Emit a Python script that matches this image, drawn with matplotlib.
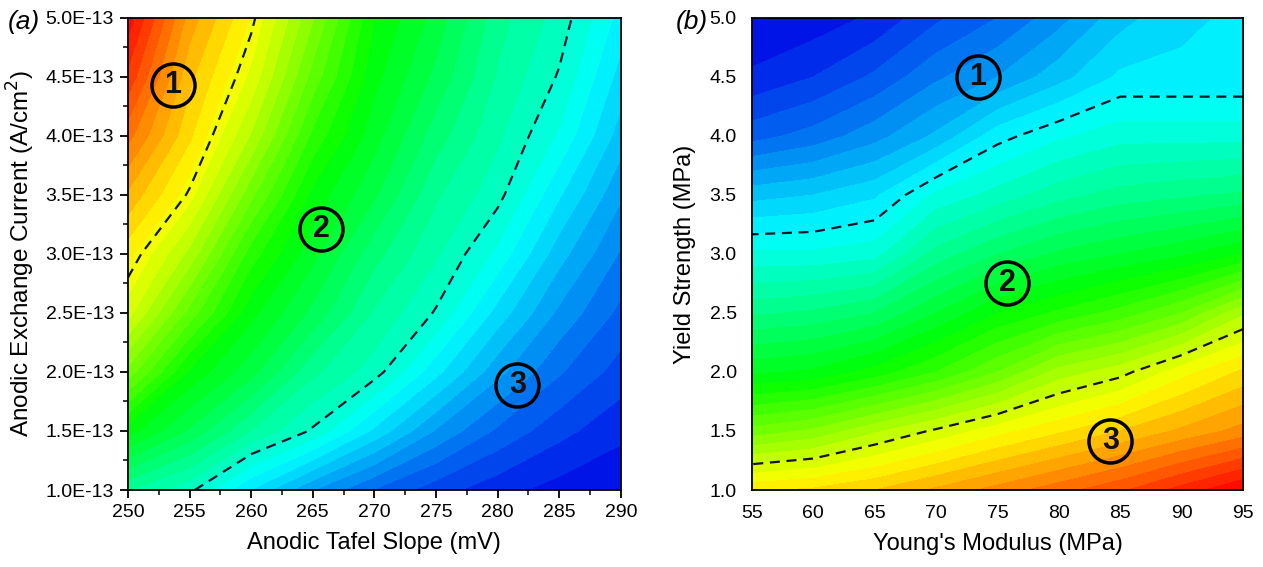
import numpy as np
import matplotlib.pyplot as plt
from matplotlib.colors import LinearSegmentedColormap
from matplotlib.ticker import MultipleLocator

plt.rcParams['font.family'] = ['Liberation Sans', 'DejaVu Sans']

# (a) anodic Tafel slope (mV) vs anodic exchange current (x1e-13 A/cm2)
tafel_slope = [250, 255, 260, 265, 270, 275, 280, 285, 290]
exch_current = [1.0, 1.5, 2.0, 2.5, 3.0, 3.5, 4.0, 4.5, 5.0]
# normalised response, one row per current value
resp_a = [
    [0.352, 0.307, 0.224, 0.151, 0.098, 0.061, 0.034, 0.015, 0.002],
    [0.486, 0.421, 0.349, 0.296, 0.219, 0.147, 0.095, 0.058, 0.032],
    [0.616, 0.495, 0.434, 0.356, 0.312, 0.233, 0.158, 0.103, 0.064],
    [0.710, 0.590, 0.483, 0.418, 0.347, 0.297, 0.215, 0.144, 0.093],
    [0.760, 0.667, 0.537, 0.458, 0.384, 0.329, 0.268, 0.185, 0.122],
    [0.820, 0.735, 0.607, 0.492, 0.429, 0.354, 0.309, 0.228, 0.154],
    [0.884, 0.780, 0.672, 0.543, 0.460, 0.387, 0.330, 0.271, 0.188],
    [0.943, 0.807, 0.718, 0.590, 0.483, 0.418, 0.347, 0.297, 0.215],
    [0.990, 0.839, 0.748, 0.627, 0.500, 0.440, 0.360, 0.315, 0.240],
]
bounds_a = [0.3, 0.74]

# (b) Young's modulus vs yield strength (MPa)
youngs = [55, 60, 65, 70, 75, 80, 85, 90, 95]
yield_str = [1.0, 1.5, 2.0, 2.5, 3.0, 3.5, 4.0, 4.5, 5.0]
resp_b = [
    [0.77, 0.78, 0.80, 0.83, 0.86, 0.89, 0.92, 0.96, 1.00],
    [0.61, 0.63, 0.67, 0.705, 0.74, 0.77, 0.80, 0.83, 0.86],
    [0.47, 0.48, 0.51, 0.55, 0.60, 0.66, 0.69, 0.74, 0.78],
    [0.37, 0.38, 0.40, 0.45, 0.50, 0.53, 0.56, 0.60, 0.67],
    [0.28, 0.28, 0.29, 0.36, 0.40, 0.43, 0.45, 0.47, 0.50],
    [0.19, 0.20, 0.22, 0.28, 0.31, 0.34, 0.36, 0.37, 0.38],
    [0.09, 0.11, 0.14, 0.18, 0.24, 0.27, 0.29, 0.29, 0.29],
    [0.03, 0.05, 0.08, 0.12, 0.15, 0.19, 0.23, 0.23, 0.23],
    [0.00, 0.01, 0.03, 0.07, 0.10, 0.14, 0.19, 0.22, 0.23],
]
bounds_b = [0.25, 0.7]

# region markers: (x, y, label)
regions_a = [(253.65, 4.43, '1'), (265.7, 3.21, '2'), (281.6, 1.89, '3')]
regions_b = [(73.4, 4.50, '1'), (75.8, 2.75, '2'), (84.2, 1.415, '3')]

cmap = LinearSegmentedColormap.from_list(
    'rainbow5', ['#0008e6', '#00ffff', '#00ff00', '#ffff00', '#ff0000'])
levels = np.linspace(0, 1, 41)

fig = plt.figure(figsize=(12.63, 5.67), dpi=100)
ax1 = fig.add_axes([0.1013, 0.1358, 0.3903, 0.8325])
ax2 = fig.add_axes([0.5954, 0.1358, 0.3888, 0.8325])


def draw_panel(ax, xs, ys, z, bounds, regions):
    X, Y = np.meshgrid(xs, ys)
    Z = np.array(z)
    ax.contourf(X, Y, Z, levels=levels, cmap=cmap, vmin=0, vmax=1, extend='both')
    ax.contour(X, Y, Z, levels=bounds, colors='#151530', linewidths=1.6,
               linestyles=[(0, (4.5, 3))])
    for x, y, s in regions:
        ax.plot(x, y, 'o', ms=31, mfc='none', mec='black', mew=2.5)
        ax.text(x, y, s, ha='center', va='center', fontsize=22,
                fontweight='bold', color='#111111')
    ax.set_xlim(xs[0], xs[-1])
    ax.set_ylim(ys[0], ys[-1])
    for sp in ax.spines.values():
        sp.set_linewidth(1.3)


draw_panel(ax1, tafel_slope, exch_current, resp_a, bounds_a, regions_a)
draw_panel(ax2, youngs, yield_str, resp_b, bounds_b, regions_b)

ax1.set_xticks(tafel_slope)
ax1.set_yticks(exch_current)
ax1.set_yticklabels(['%.1fE-13' % v for v in exch_current])
ax1.xaxis.set_minor_locator(MultipleLocator(2.5))
ax1.yaxis.set_minor_locator(MultipleLocator(0.25))
ax1.tick_params(which='major', direction='out', length=6, width=1.3,
                labelsize=14, pad=4)
ax1.tick_params(which='minor', direction='out', length=3.5, width=1.1)
ax1.set_xlabel('Anodic Tafel Slope (mV)', fontsize=17, labelpad=8)
ax1.set_ylabel('Anodic Exchange Current (A/cm$^2$)', fontsize=17.5, labelpad=6)

ax2.set_xticks(youngs)
ax2.set_yticks(yield_str)
ax2.set_yticklabels(['%.1f' % v for v in yield_str])
ax2.tick_params(length=0, labelsize=14, pad=11)
ax2.set_xlabel("Young's Modulus (MPa)", fontsize=17, labelpad=8)
ax2.set_ylabel('Yield Strength (MPa)', fontsize=17, labelpad=10)

fig.text(0.006, 0.962, '(a)', fontsize=19, style='italic', va='center')
fig.text(0.535, 0.962, '(b)', fontsize=19, style='italic', va='center')

fig.savefig('out.png', dpi=100)
